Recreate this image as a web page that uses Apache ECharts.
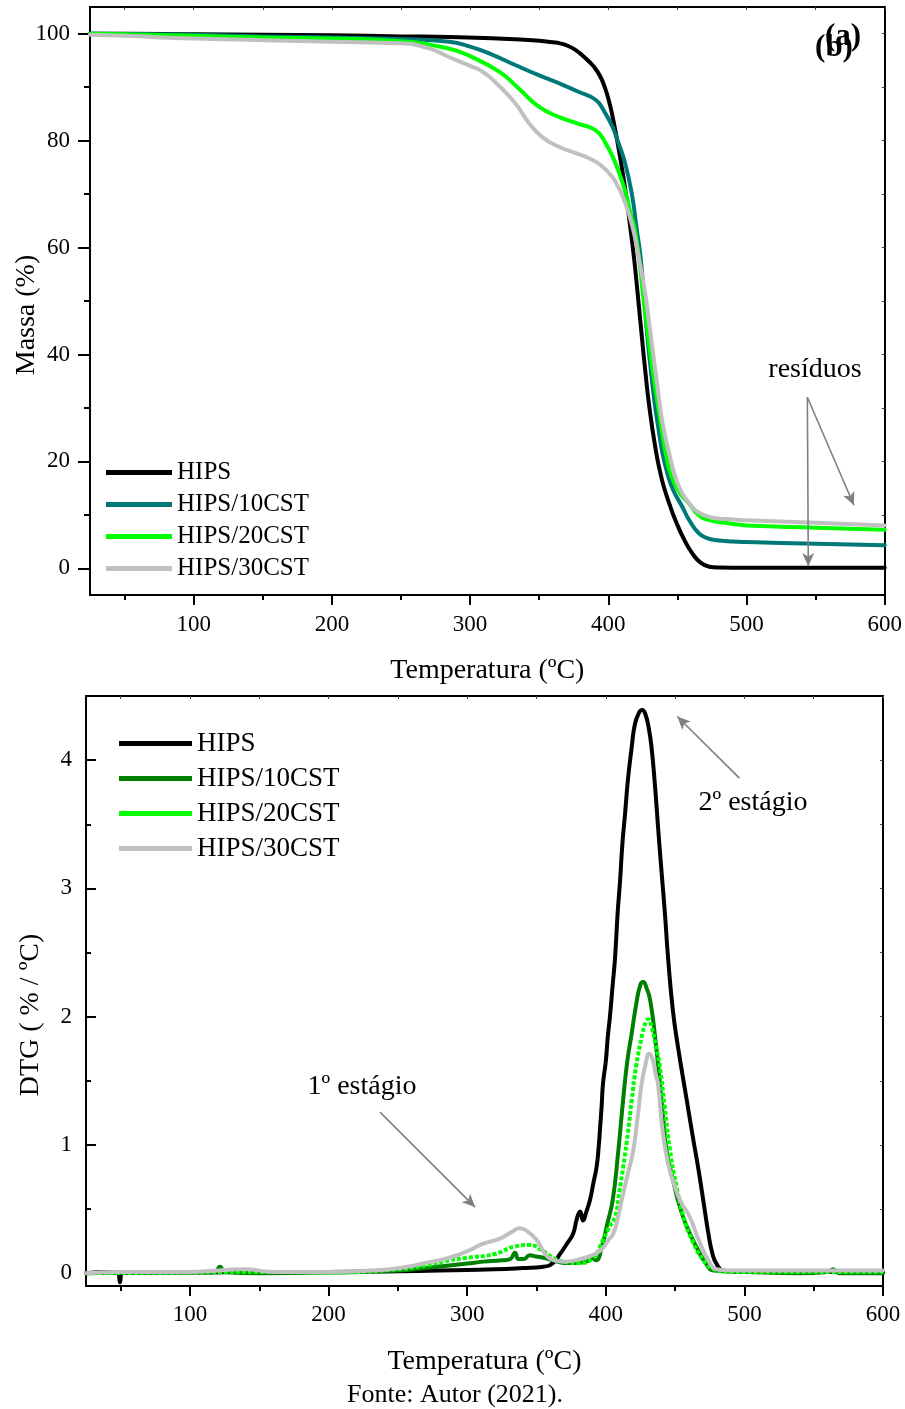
<!DOCTYPE html>
<html><head><meta charset="utf-8">
<script src="https://cdn.jsdelivr.net/npm/echarts@6/dist/echarts.min.js"></script>
<style>html,body{margin:0;padding:0;background:#fff}#c{width:905px;height:1409px}</style>
</head><body><div id="c"></div>
<script>
// ---------- DATA ----------
const seriesNames = ['HIPS', 'HIPS/10CST', 'HIPS/20CST', 'HIPS/30CST'];
const xTickLabels = [100, 200, 300, 400, 500, 600];
const tgTickLabels = [0, 20, 40, 60, 80, 100];
const dtgTickLabels = [0, 1, 2, 3, 4];

// TG (a): [temperature ºC, mass %]
const tgHIPS = [[25,100],[50,100],[100,99.9],[150,99.8],[200,99.7],[250,99.5],[285,99.4],[320,99.1],[345,98.8],[360,98.4],[365,98.2],[371,97.7],[376.7,96.9],[381,96.0],[386,94.8],[390,93.7],[394,92.1],[397,90.3],[400,87.9],[403,84.6],[406,80.6],[409,76.2],[412.7,70.1],[415.8,64],[418.8,57.6],[421,52],[423.6,45.1],[426.5,37.5],[430,29.5],[434.4,22],[437,18.6],[440,15.4],[444.5,11.8],[449,8.7],[455,5.3],[461,2.7],[467,1],[473,0.3],[480,0.15],[500,0.1],[550,0.1],[600,0.1]];
const tg10 = [[25,100],[50,99.95],[100,99.8],[150,99.5],[200,99.3],[250,99.0],[285,98.5],[300,97.6],[315,96.2],[333,94.1],[350,92.2],[364.6,90.7],[378,89.2],[391,87.6],[397,85.5],[403,82.6],[407,79.8],[411.6,76.3],[417,70.1],[420.5,63.5],[423.6,57.6],[427.6,45.1],[430,38.9],[433.5,31],[436.5,25.8],[439.2,21.5],[443,17.5],[447,14.6],[453.5,11.5],[459,8.8],[465.7,6.5],[472,5.6],[477,5.3],[490,5.0],[500,4.9],[550,4.6],[600,4.3]];
const tg20 = [[25,100],[50,99.9],[100,99.6],[150,99.3],[200,99.1],[250,98.6],[285,97.2],[300,95.8],[321,92.9],[335,89.8],[350,86.3],[364.6,84.4],[378,83.2],[391,81.9],[398.3,79.4],[404.3,76.3],[408,73.8],[412.7,70.1],[416.4,66],[418.8,63.9],[422.4,57.6],[425,51.5],[428,45.1],[431,39],[434.4,33],[438,27],[441.6,21.5],[446,17],[452,14],[458.5,12.1],[465,10],[473,9.0],[490,8.3],[500,8.0],[550,7.6],[600,7.2]];
const tg30 = [[25,99.8],[50,99.6],[100,99.1],[150,98.8],[200,98.5],[250,98.2],[270,97.3],[285,95.6],[300,94.0],[309,92.9],[320,90.5],[333,86.9],[342,83.5],[352,80.7],[364.6,78.8],[376,77.7],[386,76.7],[395,75.3],[403,73.2],[407,71.4],[411.6,68.8],[417.5,63.9],[422.4,57.6],[426.7,51.4],[429.5,46],[432.5,40],[435.6,33.9],[439,27.5],[444,21.5],[450,16],[458.5,12.1],[465,10.5],[473,9.6],[485,9.2],[500,9.0],[550,8.5],[600,8.0]];

// DTG (b): [temperature ºC, %/ºC]
const dtgHIPS = [[25,0],[40,0.01],[48,0],[49.5,-0.07],[51,0],[80,0.005],[100,0.005],[150,0.01],[200,0.01],[250,0.015],[280,0.02],[300,0.025],[320,0.03],[340,0.04],[355,0.05],[362,0.08],[367,0.15],[372,0.23],[376.5,0.31],[379,0.42],[381.5,0.48],[383.6,0.41],[386,0.48],[388.6,0.57],[391,0.7],[393.4,0.83],[395,1.0],[396,1.15],[397,1.3],[398,1.48],[400,1.65],[401.5,1.85],[403,2.0],[405,2.25],[406.7,2.46],[408.5,2.8],[410.3,3.06],[412,3.35],[413.9,3.58],[416,3.85],[418.7,4.1],[421,4.28],[424,4.37],[426.3,4.39],[428.5,4.36],[431,4.25],[433,4.1],[435.5,3.8],[437.9,3.45],[440.3,3.12],[442.7,2.8],[445,2.45],[448.4,2.05],[452,1.77],[458.4,1.35],[463,1.05],[467,0.8],[471,0.52],[474,0.31],[477,0.15],[480,0.07],[485,0.02],[500,0.01],[600,0.01]];
const dtg10 = [[25,0],[60,0.005],[100,0.005],[118,0.01],[121.7,0.05],[125,0.01],[150,0],[200,0.005],[250,0.02],[270,0.04],[287,0.06],[300,0.075],[311.6,0.09],[325,0.1],[331,0.11],[334.5,0.16],[337,0.11],[341,0.11],[345,0.14],[350,0.13],[355,0.12],[362,0.1],[370,0.08],[378,0.08],[386,0.09],[390,0.12],[393,0.1],[397,0.2],[401,0.38],[405,0.57],[409,0.95],[412.5,1.35],[415.5,1.65],[418.7,1.87],[422,2.1],[425,2.25],[427,2.27],[429.5,2.22],[432,2.13],[435.5,1.85],[439,1.48],[441.5,1.2],[443.8,0.96],[448,0.75],[453.6,0.51],[459,0.35],[465.6,0.2],[472,0.08],[478,0.02],[500,0.01],[540,0],[560,0.01],[564,0.03],[568,0],[600,0]];
const dtg20 = [[25,0],[100,0.005],[150,0.01],[200,0.005],[250,0.03],[270,0.06],[287,0.1],[300,0.12],[320,0.15],[335,0.21],[345,0.22],[355,0.17],[362,0.12],[370,0.09],[380,0.08],[390,0.11],[398,0.26],[402,0.35],[406.7,0.44],[410,0.65],[412.6,0.83],[416,1.1],[418.7,1.35],[422,1.62],[426.5,1.87],[429,1.96],[430.7,1.98],[433,1.92],[436,1.78],[439,1.61],[442.5,1.3],[446.3,0.96],[451,0.68],[456,0.44],[463,0.24],[470.5,0.1],[478,0.03],[490,0.01],[600,0.01]];
const dtg30 = [[25,0],[50,0.01],[100,0.01],[140,0.03],[160,0.01],[200,0.01],[230,0.02],[251.5,0.04],[270,0.08],[287,0.12],[300,0.17],[311.6,0.23],[323.7,0.27],[332,0.32],[338,0.35],[343,0.33],[350,0.26],[357,0.14],[363,0.1],[369.4,0.09],[378,0.1],[388,0.13],[394,0.16],[398.2,0.2],[402,0.26],[405.5,0.31],[408.5,0.42],[411.5,0.57],[416,0.78],[419.9,0.96],[423,1.22],[425.9,1.48],[428.5,1.62],[431.4,1.71],[434,1.66],[436,1.55],[437.6,1.48],[441.2,1.09],[445,0.85],[449,0.7],[454,0.56],[460.5,0.44],[467,0.26],[474,0.1],[480,0.03],[490,0.02],[600,0.02]];

// annotation arrows [[x1,y1],[x2,y2]] in data units
const tgArrows = [[[544,32],[544.7,0.4]],[[544,32],[577.7,11.8]]];
const dtgArrows = [[[496.4,3.86],[451.6,4.34]],[[237.1,1.256],[305.7,0.515]]];

// ---------- STYLE ----------
const FONT = '"Liberation Serif", "Times New Roman", serif';
const colorsTG = ['#000000', '#007878', '#00ff00', '#c0c0c0'];
const colorsDTG = ['#000000', '#008000', '#00ff00', '#c0c0c0'];
const AX = '#000';

function range(a, b, s) { const r = []; for (let v = a; v <= b + 1e-9; v += s) r.push(+v.toFixed(4)); return r; }

function xAxes(gridIndex, labelMargin, nameGap) {
  return [
    { gridIndex, type: 'value', position: 'bottom', min: 25, max: 600,
      axisLine: { onZero: false, lineStyle: { color: AX, width: 2 } },
      axisTick: { customValues: xTickLabels, length: 10, lineStyle: { color: AX, width: 2 } },
      axisLabel: { customValues: xTickLabels, color: '#000', fontFamily: FONT, fontSize: 23, margin: labelMargin },
      splitLine: { show: false },
      name: 'Temperatura (ºC)', nameLocation: 'middle', nameGap,
      nameTextStyle: { color: '#000', fontFamily: FONT, fontSize: 28 } },
    { gridIndex, type: 'value', position: 'bottom', min: 25, max: 600,
      axisLine: { show: false, onZero: false },
      axisTick: { customValues: range(50, 550, 100), length: 5, lineStyle: { color: AX, width: 2 } },
      axisLabel: { show: false }, splitLine: { show: false } },
    { gridIndex, type: 'value', position: 'top', min: 25, max: 600,
      axisLine: { onZero: false, lineStyle: { color: AX, width: 2 } },
      axisTick: { inside: true, customValues: range(50, 600, 50), length: 3, lineStyle: { color: '#444', width: 1 } },
      axisLabel: { show: false }, splitLine: { show: false } }
  ];
}

function yAxes(gridIndex, min, max, majors, minors, inside, labelMargin, majorLen) {
  return [
    { gridIndex, type: 'value', position: 'left', min, max,
      axisLine: { onZero: false, lineStyle: { color: AX, width: 2 } },
      axisTick: { inside, customValues: majors, length: majorLen, lineStyle: { color: AX, width: 2 } },
      axisLabel: { customValues: majors, color: '#000', fontFamily: FONT, fontSize: 23, margin: labelMargin },
      splitLine: { show: false } },
    { gridIndex, type: 'value', position: 'left', min, max,
      axisLine: { show: false, onZero: false },
      axisTick: { inside, customValues: minors, length: Math.round(majorLen / 2), lineStyle: { color: AX, width: 2 } },
      axisLabel: { show: false }, splitLine: { show: false } },
    { gridIndex, type: 'value', position: 'right', min, max,
      axisLine: { onZero: false, lineStyle: { color: AX, width: 2 } },
      axisTick: { inside: true, customValues: majors.concat(minors), length: 3, lineStyle: { color: '#444', width: 1 } },
      axisLabel: { show: false }, splitLine: { show: false } }
  ];
}

function arrowMark(list) {
  return {
    silent: true, symbol: ['none', 'arrow'], symbolSize: [9, 13], animation: false,
    lineStyle: { color: '#808080', width: 1.6, type: 'solid' },
    label: { show: false }, emphasis: { disabled: true },
    data: list.map(a => [{ coord: a[0] }, { coord: a[1] }])
  };
}

function lineSeries(name, data, color, xi, yi, extra) {
  return Object.assign({
    type: 'line', name, data, xAxisIndex: xi, yAxisIndex: yi,
    showSymbol: false, symbol: 'none', smooth: 0.5,
    lineStyle: { color, width: 4, join: 'round', cap: 'round' }, itemStyle: { color },
    emphasis: { disabled: true }, animation: false, clip: true
  }, extra || {});
}

const tgData = [tgHIPS, tg10, tg20, tg30];
const dtgData = [dtgHIPS, dtg10, dtg20, dtg30];

const series = [];
tgData.forEach((d, i) => series.push(lineSeries(seriesNames[i], d, colorsTG[i], 0, 0, i === 0 ? { markLine: arrowMark(tgArrows) } : {})));
dtgData.forEach((d, i) => {
  const s = lineSeries(seriesNames[i], d, colorsDTG[i], 3, 3, i === 0 ? { markLine: arrowMark(dtgArrows) } : {});
  if (i === 2) { s.lineStyle.type = [4, 2]; s.lineStyle.cap = 'butt'; }
  series.push(s);
});

function legend(left, top, colors, w, fs, gap) {
  return {
    orient: 'vertical', left, top, icon: 'rect', itemWidth: w, itemHeight: 5, itemGap: gap,
    selectedMode: false,
    textStyle: { color: '#000', fontFamily: FONT, fontSize: fs, lineHeight: fs },
    data: seriesNames.map((n, i) => ({ name: n, icon: 'rect', itemStyle: { color: colors[i], borderWidth: 0 } }))
  };
}

const txt = (text, x, y, fs, opts) => ({
  type: 'text', x, y, rotation: (opts && opts.rot) || 0, silent: true,
  style: { text, fill: '#000', font: ((opts && opts.bold) ? 'bold ' : '') + fs + 'px ' + FONT, textAlign: 'center', textVerticalAlign: 'middle' }
});

const option = {
  backgroundColor: '#fff',
  animation: false,
  grid: [
    { left: 90, top: 7, width: 796, height: 588 },
    { left: 86, top: 696, width: 797, height: 590 }
  ],
  xAxis: [].concat(xAxes(0, 18, 62), xAxes(1, 17, 62)),
  yAxis: [].concat(
    yAxes(0, -5, 105, tgTickLabels, [10, 30, 50, 70, 90], false, 20, 12),
    yAxes(1, -0.1, 4.5, dtgTickLabels, [0.5, 1.5, 2.5, 3.5], true, 14, 10)
  ),
  legend: [
    legend(101, 455, colorsTG, 66, 25, 7),
    legend(114, 725, colorsDTG, 73, 27, 8)
  ],
  series,
  graphic: [
    txt('Massa (%)', 27, 315, 28, { rot: Math.PI / 2 }),
    txt('DTG ( % / ºC)', 31, 1015, 28, { rot: Math.PI / 2 }),
    txt('(a)', 843, 37, 31, { bold: true }),
    txt('(b)', 834, 48, 31, { bold: true }),
    txt('resíduos', 815, 370, 28),
    txt('2º estágio', 753, 803, 28),
    txt('1º estágio', 362, 1087, 28),
    txt('Fonte: Autor (2021).', 455, 1395, 26)
  ]
};

const chart = echarts.init(document.getElementById('c'), null, { renderer: 'canvas' });
chart.setOption(option);
</script>
</body></html>
